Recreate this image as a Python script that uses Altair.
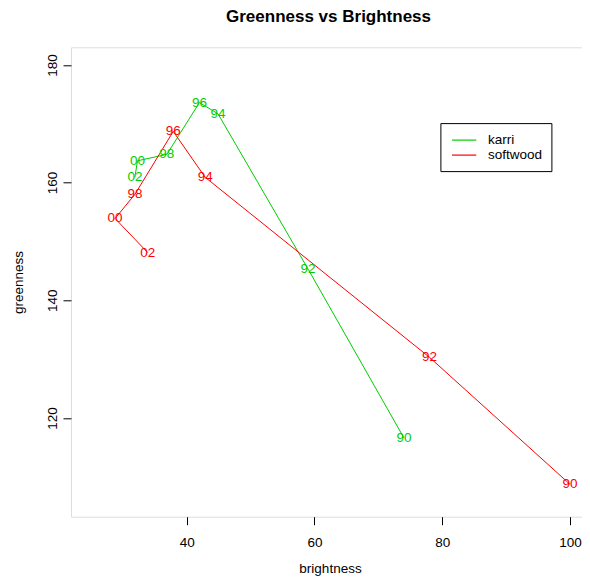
import altair as alt
import pandas as pd

years = ["90", "92", "94", "96", "98", "00", "02"]
karri_brightness = [74.0, 59.0, 44.9, 42.0, 36.9, 32.3, 31.9]
karri_greenness = [116.6, 145.3, 171.7, 173.6, 164.8, 163.7, 160.9]
softwood_brightness = [100.0, 78.0, 42.9, 37.9, 31.9, 28.8, 33.9]
softwood_greenness = [108.7, 130.3, 160.9, 168.7, 158.0, 153.9, 148.1]
series_names = ["karri", "softwood"]
series_colors = ["#00CD00", "#FF0000"]

x_ticks = [40, 60, 80, 100]
y_ticks = [120, 140, 160, 180]

rows = []
for name, xs, ys in [("karri", karri_brightness, karri_greenness),
                     ("softwood", softwood_brightness, softwood_greenness)]:
    for i, (yr, xv, yv) in enumerate(zip(years, xs, ys)):
        rows.append({"series": name, "order": i, "year": yr,
                     "brightness": xv, "greenness": yv})
df = pd.DataFrame(rows)

FONT = "Liberation Sans"

x_enc = alt.X("brightness:Q",
              scale=alt.Scale(domain=[21.9, 101.87], nice=False, zero=False),
              axis=alt.Axis(values=x_ticks, title="brightness", grid=False,
                            domain=False, tickSize=8, tickColor="black",
                            labelFont=FONT, labelFontSize=13.5, labelColor="black",
                            labelPadding=11, labelFlush=False,
                            titleFont=FONT, titleFontSize=13.5, titleFontWeight="normal",
                            titleColor="black", titleX=259, titleY=56,
                            titleBaseline="alphabetic"))
y_enc = alt.Y("greenness:Q",
              scale=alt.Scale(domain=[103.2, 183.0], nice=False, zero=False),
              axis=alt.Axis(values=y_ticks, title="greenness", grid=False,
                            domain=False, tickSize=8, tickColor="black",
                            labelFont=FONT, labelFontSize=13.5, labelColor="black",
                            labelAngle=270, labelAlign="center", labelBaseline="middle",
                            labelPadding=11, labelFlush=False,
                            titleFont=FONT, titleFontSize=13.5, titleFontWeight="normal",
                            titleColor="black", titleX=-53, titleAngle=270,
                            titleBaseline="middle"))

color_scale = alt.Scale(domain=series_names, range=series_colors)

lines = alt.Chart(df).mark_line(strokeWidth=1).encode(
    x=x_enc, y=y_enc,
    color=alt.Color("series:N", scale=color_scale,
                    legend=alt.Legend(title=None, orient="none",
                                      legendX=369.4, legendY=75.8,
                                      strokeColor="black", fillColor="white",
                                      padding=9,
                                      symbolType="M-0.73,0H2.55",
                                      symbolSize=219, symbolStrokeWidth=1.2,
                                      labelFont=FONT, labelFontSize=13.5,
                                      labelColor="black", labelOffset=22.5,
                                      rowPadding=0)),
    order="order:Q",
)

labels = alt.Chart(df).mark_text(font=FONT, fontSize=13.5, align="center",
                                 baseline="middle").encode(
    x="brightness:Q", y="greenness:Q", text="year:N",
    color=alt.Color("series:N", scale=color_scale, legend=None),
)

chart = (lines + labels).properties(
    width=511, height=469.4,
    title=alt.TitleParams("Greenness vs Brightness", font=FONT, fontSize=17,
                          fontWeight="bold", color="black", anchor="start",
                          frame="group", dx=155,
                          baseline="alphabetic", offset=8),
    autosize=alt.AutoSizeParams(type="none"),
    padding={"left": 63, "top": 39.3, "right": 0, "bottom": 60.3},
).configure_view(stroke="#222222", strokeWidth=1).configure(background="white")

chart.save("out.html", embed_options={"renderer": "svg", "actions": False})
